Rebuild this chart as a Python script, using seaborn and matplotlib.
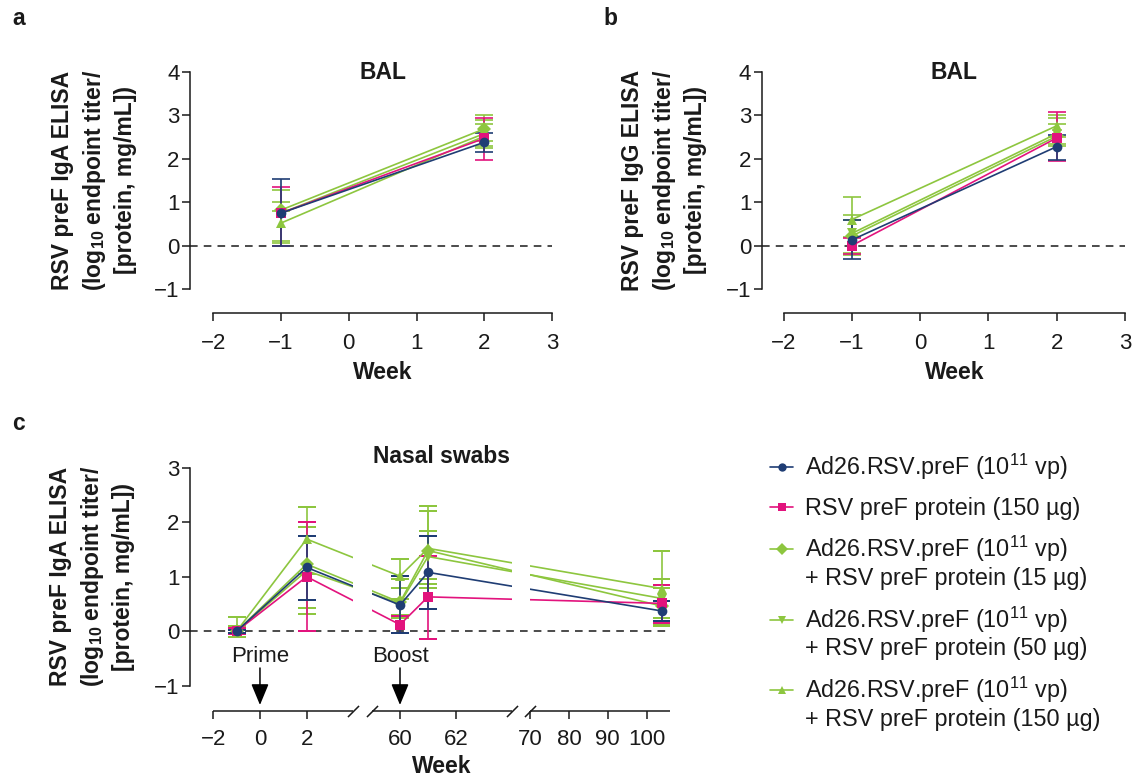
import numpy as np
import pandas as pd
import matplotlib
matplotlib.use("Agg")
import matplotlib.pyplot as plt
import seaborn as sns
from matplotlib.lines import Line2D
from matplotlib.path import Path
from matplotlib.transforms import ScaledTranslation
from matplotlib.legend_handler import HandlerLine2D

# ---------------- data ----------------
GROUPS = ["Ad26", "Prot150", "Combo15", "Combo50", "Combo150"]
LEGEND_LABELS = [
    "Ad26.RSV.preF (10$^{11}$ vp)",
    "RSV preF protein (150 µg)",
    "Ad26.RSV.preF (10$^{11}$ vp)\n+ RSV preF protein (15 µg)",
    "Ad26.RSV.preF (10$^{11}$ vp)\n+ RSV preF protein (50 µg)",
    "Ad26.RSV.preF (10$^{11}$ vp)\n+ RSV preF protein (150 µg)",
]
COLORS = {"Ad26": "#1f3d74", "Prot150": "#e2137d", "Combo15": "#8dc63f",
          "Combo50": "#8dc63f", "Combo150": "#8dc63f"}
MARKERS = {"Ad26": "o", "Prot150": "s", "Combo15": "D", "Combo50": "v", "Combo150": "^"}

WEEKS_BAL = [-1, 2]
WEEKS_NASAL = [-1, 2, 60, 61, 104]

iga_bal_mean = [[0.75, 2.38], [0.75, 2.47], [0.82, 2.69], [0.75, 2.58], [0.52, 2.52]]
iga_bal_low = [[0.00, 2.15], [0.00, 1.98], [0.10, 2.42], [0.05, 2.30], [0.00, 2.25]]
iga_bal_high = [[1.54, 2.60], [1.35, 2.93], [1.28, 3.00], [1.00, 2.90], [0.80, 2.80]]

igg_bal_mean = [[0.13, 2.28], [0.00, 2.48], [0.22, 2.52], [0.28, 2.58], [0.60, 2.76]]
igg_bal_low = [[-0.31, 1.98], [-0.20, 1.95], [-0.22, 2.30], [-0.18, 2.35], [0.20, 2.50]]
igg_bal_high = [[0.58, 2.55], [0.18, 3.08], [0.60, 2.80], [0.70, 2.95], [1.13, 3.00]]

nasal_mean = [[0.00, 1.17, 0.48, 1.08, 0.37],
              [0.00, 1.00, 0.12, 0.63, 0.51],
              [0.00, 1.23, 0.53, 1.48, 0.46],
              [0.00, 1.11, 0.51, 1.37, 0.60],
              [0.00, 1.69, 1.01, 1.52, 0.78]]
nasal_low = [[-0.03, 0.57, -0.03, 0.40, 0.18],
             [-0.05, 0.00, -0.04, -0.14, 0.15],
             [-0.05, 0.43, 0.30, 0.86, 0.12],
             [-0.05, 0.31, 0.25, 0.95, 0.09],
             [-0.10, 1.05, 0.60, 0.80, 0.25]]
nasal_high = [[0.03, 1.75, 1.01, 1.74, 0.55],
              [0.05, 2.00, 0.28, 1.38, 0.84],
              [0.10, 2.01, 0.95, 2.21, 0.80],
              [0.10, 1.92, 0.80, 1.83, 0.95],
              [0.26, 2.28, 1.32, 2.29, 1.48]]

NASAL_TICKS = [-2, 0, 2, 60, 62, 70, 80, 90, 100]
# broken-axis segments (weeks) and their relative widths on the scale
SEGMENTS = [(-2, 4), (59, 64), (70, 106)]
BREAK_W = [-2, 4, 59, 64, 70, 106]
BREAK_U = [0.0, 140.0, 158.7, 298.7, 316.7, 456.7]

# ---------------- style ----------------
sns.set_theme(style="ticks")
plt.rcParams["font.family"] = ["Liberation Sans", "DejaVu Sans"]
plt.rcParams["mathtext.fontset"] = "custom"
plt.rcParams["mathtext.rm"] = "Liberation Sans"
plt.rcParams["mathtext.it"] = "Liberation Sans:italic"
plt.rcParams["mathtext.bf"] = "Liberation Sans:bold"
plt.rcParams["axes.unicode_minus"] = True

INK = "#1a1a1a"
FS = 16
LFS = 16.5
W, H = 1134, 781
fig = plt.figure(figsize=(W / 100, H / 100), dpi=100)

axA = fig.add_axes([213.3 / W, 1 - 289 / H, 338.7 / W, 217 / H])
axB = fig.add_axes([783.5 / W, 1 - 289 / H, 341.5 / W, 217 / H])
axC = fig.add_axes([213.3 / W, 1 - 685.7 / H, 456.7 / W, 218 / H])

YLAB_A = "RSV preF IgA ELISA\n(log$_{\\mathbf{10}}$ endpoint titer/\n[protein, mg/mL])"
YLAB_B = "RSV preF IgG ELISA\n(log$_{\\mathbf{10}}$ endpoint titer/\n[protein, mg/mL])"


def draw_data(ax, weeks, mean, low, high):
    rows = []
    for g, m in zip(GROUPS, mean):
        for w, v in zip(weeks, m):
            rows.append((w, v, g))
    df = pd.DataFrame(rows, columns=["week", "value", "group"])
    order = GROUPS[::-1]
    for i, g in enumerate(order):
        k = GROUPS.index(g)
        y = np.array(mean[k]); lo = np.array(low[k]); hi = np.array(high[k])
        ax.errorbar(weeks, y, yerr=[y - lo, hi - y], fmt="none", ecolor=COLORS[g],
                    elinewidth=1.2, capsize=6.5, capthick=1.2, zorder=2 + 0.1 * i)
    sns.lineplot(data=df, x="week", y="value", hue="group", style="group",
                 hue_order=order, style_order=order, palette=COLORS, markers=MARKERS,
                 dashes=False, estimator=None, errorbar=None, legend=False, ax=ax,
                 lw=1.2, markersize=7, markeredgewidth=0, zorder=3)


def style_axes(ax, left_off, bottom_off, xpad):
    sns.despine(ax=ax, offset=dict(left=left_off, bottom=bottom_off))
    ax.set_facecolor("none")
    for s in ("left", "bottom"):
        ax.spines[s].set_linewidth(1.1)
        ax.spines[s].set_color(INK)
    ax.tick_params(axis="both", direction="out", length=6, width=1.1, color=INK,
                   labelsize=FS, labelcolor=INK)
    ax.tick_params(axis="y", pad=1.5)
    ax.tick_params(axis="x", pad=xpad)
    ax.grid(False)


def zero_line(ax, left_off_px, width_px):
    ax.axhline(0, xmin=-left_off_px / width_px, xmax=1, color=INK, lw=1.1,
               ls=(0, (5, 4)), clip_on=False, zorder=1.5)


# ---------------- panel a ----------------
draw_data(axA, WEEKS_BAL, iga_bal_mean, iga_bal_low, iga_bal_high)
axA.set_xlim(-2, 3)
axA.set_ylim(-1, 4)
axA.set_xticks([-2, -1, 0, 1, 2, 3])
axA.set_yticks([-1, 0, 1, 2, 3, 4])
style_axes(axA, 16.8, 17.5, 8.5)
zero_line(axA, 23.3, 338.7)
axA.set_xlabel("Week", fontsize=LFS, fontweight="bold", color=INK, labelpad=5)
axA.set_ylabel(YLAB_A, fontsize=LFS, fontweight="bold", color=INK, linespacing=1.35)
axA.yaxis.set_label_coords(-0.225, 0.5)
axA.text(0.5, 0.966, "BAL", transform=axA.transAxes, ha="center", va="baseline",
         fontsize=LFS, fontweight="bold", color=INK)

# ---------------- panel b ----------------
draw_data(axB, WEEKS_BAL, igg_bal_mean, igg_bal_low, igg_bal_high)
axB.set_xlim(-2, 3)
axB.set_ylim(-1, 4)
axB.set_xticks([-2, -1, 0, 1, 2, 3])
axB.set_yticks([-1, 0, 1, 2, 3, 4])
style_axes(axB, 15.7, 17.5, 8.5)
zero_line(axB, 21.8, 341.5)
axB.set_xlabel("Week", fontsize=LFS, fontweight="bold", color=INK, labelpad=5)
axB.set_ylabel(YLAB_B, fontsize=LFS, fontweight="bold", color=INK, linespacing=1.35)
axB.yaxis.set_label_coords(-0.224, 0.5)
axB.text(0.5, 0.966, "BAL", transform=axB.transAxes, ha="center", va="baseline",
         fontsize=LFS, fontweight="bold", color=INK)

# ---------------- panel c (broken x axis) ----------------
def fwd(w):
    return np.interp(np.asarray(w, float), BREAK_W, BREAK_U)


def inv(u):
    return np.interp(np.asarray(u, float), BREAK_U, BREAK_W)


draw_data(axC, WEEKS_NASAL, nasal_mean, nasal_low, nasal_high)
axC.set_xscale("function", functions=(fwd, inv))
axC.set_xlim(-2, 106)
axC.set_ylim(-1, 3)
axC.set_yticks([-1, 0, 1, 2, 3])
axC.set_xticks(NASAL_TICKS)
axC.set_xticklabels([str(t).replace("-", "\u2212") for t in NASAL_TICKS])

# clip data to the axis segments (gaps at the breaks)
verts, codes = [], []
for a, b in SEGMENTS:
    verts += [(a, -1), (b, -1), (b, 2), (a, 2), (a, -1)]
    codes += [Path.MOVETO, Path.LINETO, Path.LINETO, Path.LINETO, Path.CLOSEPOLY]
clip = Path(verts, codes)
for art in list(axC.lines) + list(axC.collections):
    art.set_clip_path(clip, axC.get_xaxis_transform())

style_axes(axC, 16.8, 18, 7)
axC.spines["bottom"].set_visible(False)
zero_line(axC, 23.3, 456.7)

axis_tr = axC.get_xaxis_transform() + ScaledTranslation(0, -18 / 72, fig.dpi_scale_trans)
for a, b in SEGMENTS:
    axC.plot([a, b], [0, 0], color=INK, lw=1.1, transform=axis_tr, clip_on=False,
             solid_capstyle="butt")
axC.plot([4, 59, 64, 70], [0, 0, 0, 0], ls="none", marker=[(-1, -1), (1, 1)], ms=8,
         mew=1.1, color=INK, transform=axis_tr, clip_on=False)
axC.set_xlim(-2, 106)
axC.set_ylim(-1, 3)

for wk, txt in ((0, "Prime"), (60, "Boost")):
    axC.text(wk, -0.571, txt, ha="center", va="baseline", fontsize=FS, color=INK)
    axC.annotate("", xy=(wk, -1.354), xytext=(wk, -0.675), annotation_clip=False,
                 arrowprops=dict(arrowstyle="-|>,head_length=0.65,head_width=0.27",
                                 mutation_scale=20, color="black", lw=1.1,
                                 shrinkA=0, shrinkB=0))

axC.set_xlabel("Week", fontsize=LFS, fontweight="bold", color=INK, labelpad=4)
axC.set_ylabel(YLAB_A, fontsize=LFS, fontweight="bold", color=INK, linespacing=1.35)
axC.yaxis.set_label_coords(-0.171, 0.5)
axC.text(0.5, 1.022, "Nasal swabs", transform=axC.transAxes, ha="center", va="baseline",
         fontsize=LFS, fontweight="bold", color=INK)

# ---------------- panel letters ----------------
for x, y, t in ((12, 25, "a"), (603, 25, "b"), (12, 430, "c")):
    fig.text(x / W, 1 - y / H, t, fontsize=LFS, fontweight="bold", color=INK, va="baseline")

# ---------------- legend ----------------
class FirstLineHandler(HandlerLine2D):
    def __init__(self, dy=0.0, **kw):
        super().__init__(**kw)
        self.dy = dy

    def create_artists(self, legend, orig_handle, xdescent, ydescent, width, height,
                       fontsize, trans):
        return super().create_artists(legend, orig_handle, xdescent,
                                      ydescent - 2 * self.dy, width, height,
                                      fontsize, trans)


handles = [Line2D([], [], color=COLORS[g], marker=MARKERS[g], ms=6, mew=0, lw=1.2)
           for g in GROUPS]
hmap = {}
for h, lab in zip(handles, LEGEND_LABELS):
    hmap[h] = FirstLineHandler(dy=9.7 if "\n" in lab else 0.0)
leg = fig.legend(handles, LEGEND_LABELS, loc="upper left",
                 bbox_to_anchor=(770 / W, 1 - 452 / H), frameon=False,
                 fontsize=16.8, handlelength=1.0, handletextpad=0.5,
                 labelspacing=0.62, borderpad=0, borderaxespad=0, handler_map=hmap)
for t in leg.get_texts():
    t.set_linespacing(1.15)
    t.set_color(INK)

fig.savefig("out.png", dpi=100)
